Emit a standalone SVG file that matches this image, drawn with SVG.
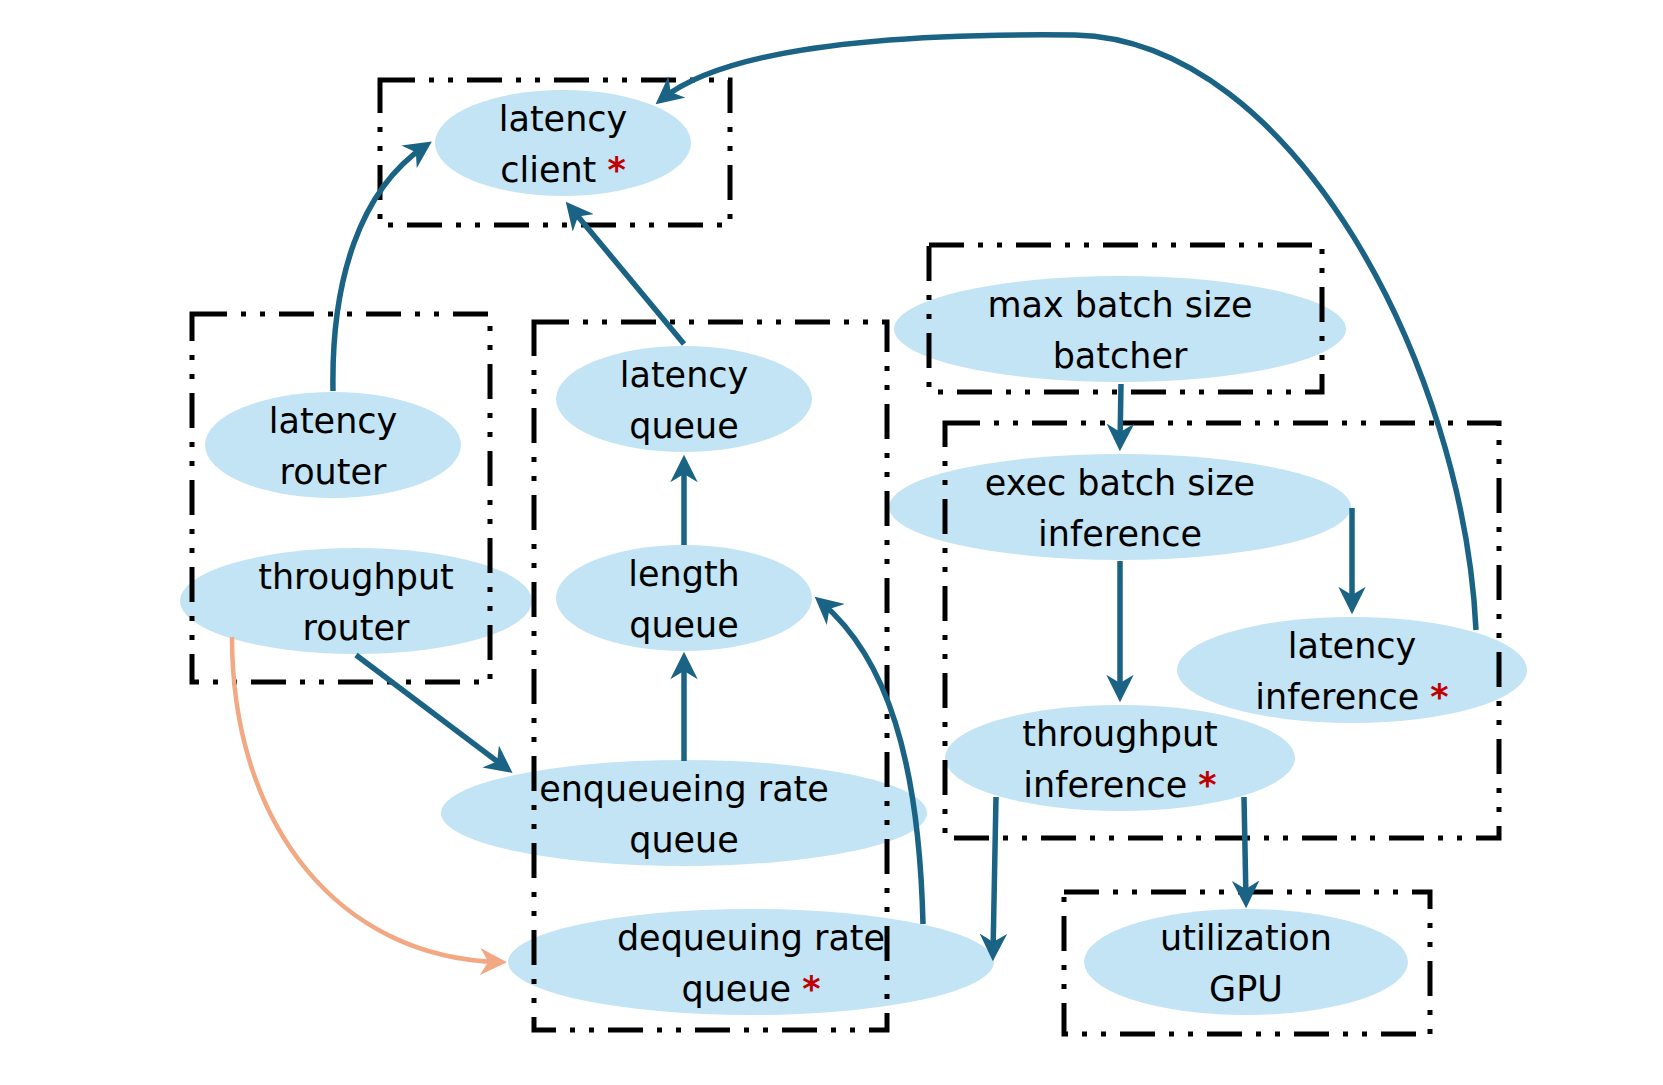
<svg xmlns="http://www.w3.org/2000/svg" width="1663" height="1085" viewBox="0 0 1663 1085">
<style>
  .node ellipse { fill: #c2e4f4; }
  .node text { font-family: "DejaVu Sans", "Liberation Sans", sans-serif; font-size: 35px; fill: #000; text-anchor: middle; }
  .star { fill: #c00000; font-weight: bold; }
  .box { fill: none; stroke: #000; stroke-width: 5; stroke-dasharray: 35 14 5 14 5 14; }
  .edge { fill: none; stroke: #1a6385; stroke-width: 5.5; marker-end: url(#arr); }
  .edge-o { fill: none; stroke: #f2a983; stroke-width: 4.5; marker-end: url(#arro); }
</style>
<defs>
  <marker id="arr" viewBox="0 0 20 20" refX="14" refY="10" markerWidth="5" markerHeight="5" orient="auto" markerUnits="strokeWidth">
    <path d="M0,0 L20,10 L0,20 L6,10 z" fill="#1a6385"/>
  </marker>
  <marker id="arro" viewBox="0 0 20 20" refX="14" refY="10" markerWidth="6" markerHeight="6" orient="auto" markerUnits="strokeWidth">
    <path d="M0,0 L20,10 L0,20 L6,10 z" fill="#f2a983"/>
  </marker>
</defs>
<rect width="1663" height="1085" fill="#fff"/>

<g id="latency-client" class="node">
  <ellipse cx="563" cy="143" rx="128" ry="53"/>
  <text x="563" y="131">latency</text>
  <text x="563" y="182">client <tspan class="star">*</tspan></text>
</g>
<g id="latency-router" class="node">
  <ellipse cx="333" cy="445" rx="128" ry="53"/>
  <text x="333" y="433">latency</text>
  <text x="333" y="484">router</text>
</g>
<g id="throughput-router" class="node">
  <ellipse cx="356" cy="601" rx="176" ry="53"/>
  <text x="356" y="589">throughput</text>
  <text x="356" y="640">router</text>
</g>
<g id="latency-queue" class="node">
  <ellipse cx="684" cy="399" rx="128" ry="53"/>
  <text x="684" y="387">latency</text>
  <text x="684" y="438">queue</text>
</g>
<g id="length-queue" class="node">
  <ellipse cx="684" cy="598" rx="128" ry="53"/>
  <text x="684" y="586">length</text>
  <text x="684" y="637">queue</text>
</g>
<g id="enqueueing-rate-queue" class="node">
  <ellipse cx="684" cy="813" rx="243" ry="53"/>
  <text x="684" y="801">enqueueing rate</text>
  <text x="684" y="852">queue</text>
</g>
<g id="dequeuing-rate-queue" class="node">
  <ellipse cx="751" cy="962" rx="243" ry="53"/>
  <text x="751" y="950">dequeuing rate</text>
  <text x="751" y="1001">queue <tspan class="star">*</tspan></text>
</g>
<g id="max-batch-size-batcher" class="node">
  <ellipse cx="1120" cy="329" rx="226" ry="53"/>
  <text x="1120" y="317">max batch size</text>
  <text x="1120" y="368">batcher</text>
</g>
<g id="exec-batch-size-inference" class="node">
  <ellipse cx="1120" cy="507" rx="231" ry="53"/>
  <text x="1120" y="495">exec batch size</text>
  <text x="1120" y="546">inference</text>
</g>
<g id="latency-inference" class="node">
  <ellipse cx="1352" cy="670" rx="175" ry="53"/>
  <text x="1352" y="658">latency</text>
  <text x="1352" y="709">inference <tspan class="star">*</tspan></text>
</g>
<g id="throughput-inference" class="node">
  <ellipse cx="1120" cy="758" rx="175" ry="53"/>
  <text x="1120" y="746">throughput</text>
  <text x="1120" y="797">inference <tspan class="star">*</tspan></text>
</g>
<g id="utilization-gpu" class="node">
  <ellipse cx="1246" cy="962" rx="162" ry="53"/>
  <text x="1246" y="950">utilization</text>
  <text x="1246" y="1001">GPU</text>
</g>

<g id="clusters">
  <rect id="box-client" class="box" x="380" y="80" width="350" height="145"/>
  <rect id="box-router" class="box" x="192" y="314" width="298" height="368"/>
  <rect id="box-queue" class="box" x="534" y="322" width="353" height="708"/>
  <rect id="box-batcher" class="box" x="929" y="245" width="393" height="147"/>
  <rect id="box-inference" class="box" x="945" y="423" width="554" height="415"/>
  <rect id="box-gpu" class="box" x="1064" y="892" width="366" height="142"/>
</g>

<g id="connectors">
  <path class="edge" d="M333,391 C331,280 360,190 425,146"/>
  <path class="edge" d="M684,344 L571,208"/>
  <path class="edge" d="M1476,630 C1464,370 1295,40 1075,35 C895,33 728,46 662,99"/>
  <path class="edge" d="M684,545 L684,463"/>
  <path class="edge" d="M684,761 L684,660"/>
  <path class="edge" d="M356,655 L506,768"/>
  <path class="edge-o" d="M232,637 C232,826 340,958 499,962"/>
  <path class="edge" d="M923,924 C919,760 887,658 821,602"/>
  <path class="edge" d="M1121,384 L1120,443"/>
  <path class="edge" d="M1120,561 L1120,694"/>
  <path class="edge" d="M1352,508 L1352,606"/>
  <path class="edge" d="M996,797 L993,953"/>
  <path class="edge" d="M1244,797 L1246,900"/>
</g>
</svg>
